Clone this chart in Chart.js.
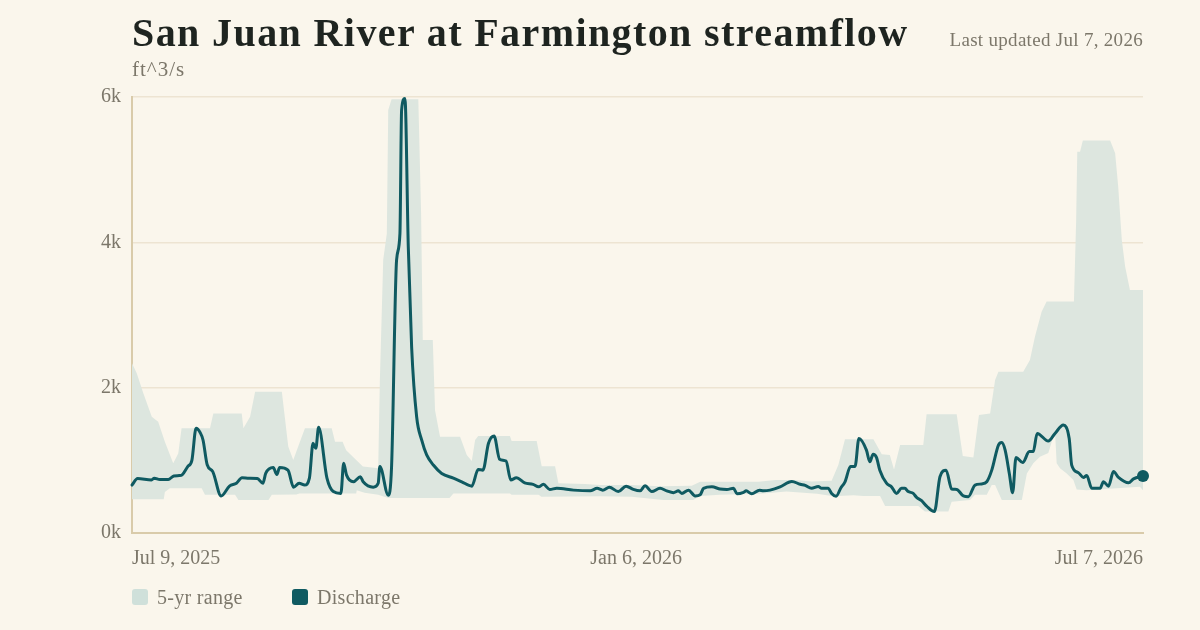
<!DOCTYPE html>
<html>
<head>
<meta charset="utf-8">
<script src="https://cdn.jsdelivr.net/npm/chart.js@4.4.1/dist/chart.umd.min.js"></script>
<style>
  html, body { margin: 0; padding: 0; background: #FAF6EC; }
  body { width: 1200px; height: 630px; position: relative; overflow: hidden; font-family: "Liberation Serif", "DejaVu Serif", serif; }
  #wrap { position: absolute; left: 0; top: 0; width: 1200px; height: 630px; }
  #title { position: absolute; left: 132px; top: 9px; font-size: 40px; font-weight: bold; color: #1E2420; white-space: nowrap; letter-spacing: 1.4px; }
  #updated { position: absolute; right: 57px; top: 29px; font-size: 19px; color: #7C776A; white-space: nowrap; letter-spacing: 0.3px; }
  #unit { position: absolute; left: 132px; top: 57px; font-size: 21px; color: #7C776A; white-space: nowrap; letter-spacing: 1px; }
  .leg { position: absolute; top: 587px; height: 20px; display: flex; align-items: center; font-size: 20px; color: #7C776A; white-space: nowrap; letter-spacing: 0.3px; }
  .sw { width: 16px; height: 16px; border-radius: 3px; margin-right: 9px; }
</style>
</head>
<body>
<div id="wrap"><canvas id="c" width="1200" height="630"></canvas></div>
<div id="title">San Juan River at Farmington streamflow</div>
<div id="updated">Last updated Jul 7, 2026</div>
<div id="unit">ft^3/s</div>
<div class="leg" style="left:132px"><div class="sw" style="background:#CFE0DA"></div>5-yr range</div>
<div class="leg" style="left:292px"><div class="sw" style="background:#0F5A61"></div>Discharge</div>
<script>
// x = days since Jul 9, 2025
const xTickDays = [0, 181, 363];
const xTickLabels = ['Jul 9, 2025', 'Jan 6, 2026', 'Jul 7, 2026'];
const yTickValues = [0, 2000, 4000, 6000];
const yTickLabels = ['0k', '2k', '4k', '6k'];

// Discharge (ft^3/s)
const dischargeDays = [0,2,7,8,10,13,15,17,18,20,21.5,23,24.5,25.5,27,29,32,35,37.5,39.5,42,45,47,48,50.7,52,53,56,58,60,62,63.7,65,66,67,70,72.3,75,76,77,79.5,82,83,86.6,88.4,89,92,93.2,95,96.2,96.8,98,99.2,100.4,102.2,104,105.8,108.2,111.2,115.4,118.4,122,124.3,126,128,130,132,134.3,136,138,141,144,146,147.7,150,152.5,158.5,164.5,167,169,171.4,174.6,177.4,180,182.4,184.2,186.6,189.6,192,194.4,196.2,197.4,199.8,202.2,204,205.2,208.2,211.2,213.6,216,217.2,219.6,220.5,222.5,225.3,226.7,229.1,232.7,236.9,239.9,241.7,244,246.4,247.6,250,251.2,252.8,254.5,256,258,259.6,261,263.7,264.9,266.1,267.3,268.5,270.9,272.7,274.5,276.3,277.5,278.7,280.5,281.7,283.5,285.3,288.1,290.1,292.3,294.3,296.1,298.5,300.3,302.7,305.1,306.9,308.7,311.1,312.3,313.5,315,316.2,317.4,319.8,322.2,323.6,325,329,331.4,334.4,336.5,337.4,339.8,341.6,342.8,344.6,347.6,348.8,350.6,352.4,354.2,357.8,359.6,363];
const dischargeValues = [660,750,730,755,735,735,785,790,800,915,1000,1440,1380,1280,940,845,510,645,685,760,755,750,685,820,900,805,900,865,630,685,660,755,1235,1165,1455,755,570,545,960,800,705,775,705,630,685,915,520,915,3760,4120,5820,5980,3940,2560,1600,1280,1075,935,820,755,705,645,875,865,1235,1335,1015,990,730,760,690,670,635,670,600,615,590,580,615,590,630,570,645,600,580,650,570,615,580,555,580,545,590,510,525,615,635,605,600,615,540,560,580,540,590,580,590,635,710,670,655,615,640,615,615,545,505,620,705,915,915,1300,1140,980,1085,1040,865,685,635,545,615,615,570,545,490,445,370,295,775,865,605,600,510,500,660,675,705,865,1210,1245,1140,820,555,1040,970,1120,1120,1370,1265,1370,1485,1300,935,830,765,790,615,615,705,645,845,765,690,745,785];

// 5-yr range, upper edge
const rangeHighDays = [0,1.7,4.1,7.1,9.4,11.8,14.8,16.6,17.8,28,29.2,39.4,40,42.4,44.2,53.8,56.1,57.9,60.1,62.1,71.7,72.9,75.6,76.9,80.5,82.9,88.4,89,90.2,91.5,92,93.2,102.8,103.8,104.4,108,108.8,110.6,117.8,120.2,122,123.2,124.3,135.7,136.3,145.3,147.1,151.9,153.1,162.7,168,179,190,201,204,225,231,238,244,251.2,253.6,256,266.2,269.2,272.1,273.6,275.8,284.1,285.3,296.1,298.3,302.1,304.1,308.1,309.9,311.1,320,322.4,324.2,326.6,328.4,338.2,339,339.4,340.4,341.4,351.2,353,354.1,355.4,356.6,358.3,363];
const rangeHighValues = [2335,2200,1920,1600,1530,1255,960,1095,1440,1440,1645,1645,1440,1600,1945,1945,1190,1005,1235,1440,1440,1255,1255,1140,1005,915,890,2105,3760,4120,5820,5970,5970,4400,2655,2655,1690,1325,1325,1075,990,1280,1335,1335,1265,1265,920,920,685,675,660,660,645,650,705,705,730,730,710,720,935,1290,1290,1085,1075,875,1210,1210,1635,1635,1060,1040,1625,1645,2105,2220,2220,2380,2700,3045,3185,3185,4305,5245,5245,5400,5400,5225,4765,4030,3665,3345,3345];

// 5-yr range, lower edge
const rangeLowDays = [0,11.4,11.8,13.6,25,26.2,37,38.2,49,50.2,59,60.1,80.5,80.7,83.5,88.4,92,114,115.4,135.7,136.3,146,147,168,179.4,190.8,201.5,204,211,225.5,235,246,251.8,259,262.6,268.6,270.4,282.3,284.7,293.1,294.3,300.9,302.7,306.9,308.7,309.9,312.3,319.5,321.3,323.6,326,329,331.4,332,333.2,335.6,338,339.2,342.8,353.6,361.9,363];
const rangeLowValues = [465,465,565,615,615,525,525,455,455,525,530,545,545,590,555,525,480,480,545,545,525,525,500,505,500,455,455,510,525,540,570,540,505,520,510,510,372,372,295,295,430,455,525,525,660,660,455,455,820,960,1050,1100,1400,960,890,820,730,600,590,615,635,590];

const pts = (xs, ys) => xs.map((x, i) => ({ x: x, y: ys[i] }));
const lineColor = '#0F5A61';
const bandColor = '#DDE6DF';
const textColor = '#7C776A';
const font = { family: '"Liberation Serif", "DejaVu Serif", serif', size: 20 };

const pointRadii = dischargeValues.map((v, i) => i === dischargeValues.length - 1 ? 6 : 0);

new Chart(document.getElementById('c'), {
  type: 'line',
  data: {
    datasets: [
      { label: 'low', data: pts(rangeLowDays, rangeLowValues), borderWidth: 0, pointRadius: 0, fill: false, tension: 0, order: 3 },
      { label: '5-yr range', data: pts(rangeHighDays, rangeHighValues), borderWidth: 0, pointRadius: 0, fill: '-1', backgroundColor: bandColor, tension: 0, order: 2 },
      { label: 'Discharge', data: pts(dischargeDays, dischargeValues), borderColor: lineColor, backgroundColor: lineColor, borderWidth: 3, pointRadius: pointRadii, pointBackgroundColor: lineColor, pointBorderWidth: 0, fill: false, cubicInterpolationMode: 'monotone', borderJoinStyle: 'round', borderCapStyle: 'round', clip: false, order: 1 }
    ]
  },
  options: {
    responsive: false,
    animation: false,
    devicePixelRatio: 1,
    layout: { padding: { left: 0, right: 57, top: 97, bottom: 52 } },
    plugins: { legend: { display: false }, tooltip: { enabled: false } },
    scales: {
      x: {
        type: 'linear', min: 0, max: 363,
        afterFit: s => { s.height = 45; },
        afterBuildTicks: s => { s.ticks = xTickDays.map(v => ({ value: v })); },
        ticks: { align: 'inner', maxRotation: 0, autoSkip: false, padding: 14, color: textColor, font: font,
                 callback: (v) => xTickLabels[xTickDays.indexOf(v)] },
        grid: { display: false, drawTicks: false },
        border: { display: true, color: '#D9CBAA', width: 2 }
      },
      y: {
        min: 0, max: 6000,
        afterFit: s => { s.width = 132; },
        afterBuildTicks: s => { s.ticks = yTickValues.map(v => ({ value: v })); },
        ticks: { padding: 11, color: textColor, font: font,
                 callback: (v) => yTickLabels[yTickValues.indexOf(v)] },
        grid: { color: '#EDE4D2', lineWidth: 1.5, drawTicks: false },
        border: { display: true, color: '#D9CBAA', width: 2 }
      }
    }
  }
});
</script>
</body>
</html>
